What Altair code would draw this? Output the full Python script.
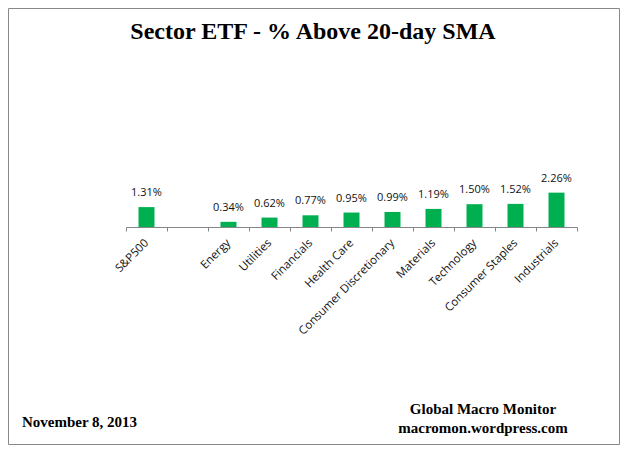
import altair as alt
import pandas as pd

# Sector ETF values (% above 20-day SMA); the blank slot is the gap after S&P500
CATEGORIES = ['S&P500', ' ', 'Energy', 'Utilities', 'Financials', 'Health Care',
              'Consumer Discretionary', 'Materials', 'Technology',
              'Consumer Staples', 'Industrials']
VALUES = [1.31, None, 0.34, 0.62, 0.77, 0.95, 0.99, 1.19, 1.50, 1.52, 2.26]

TITLE = 'Sector ETF - % Above 20-day SMA'
DATE_NOTE = 'November 8, 2013'
SOURCE_LINES = ['Global Macro Monitor', 'macromon.wordpress.com']

BAR_COLOR = '#00B050'
SERIF = 'Liberation Serif'
SANS = 'Open Sans'

df = pd.DataFrame({'sector': CATEGORIES, 'value': VALUES}).dropna()
df['label'] = df['value'].map(lambda v: f'{v:.2f}%')

x_enc = alt.X('sector:N', sort=CATEGORIES,
              scale=alt.Scale(domain=CATEGORIES, padding=0),
              axis=alt.Axis(title=None, labelAngle=-45, labelFont=SANS, labelFontSize=11.5,
                            labelColor='#111', labelPadding=10, labelAlign='right',
                            labelBaseline='middle', tickBand='extent',
                            tickSize=4, tickColor='#868686', domainColor='#868686',
                            grid=False))
y_enc = alt.Y('value:Q', scale=alt.Scale(domain=[0, 10], nice=False), axis=None)

base = alt.Chart(df).encode(x=x_enc, y=y_enc)

bars = base.mark_bar(size=16, color=BAR_COLOR)
labels = base.mark_text(baseline='bottom', dy=-9, font=SANS, fontSize=11,
                        color='#111').encode(text='label:N')

# decorations: frame, title and footer notes
one = alt.Chart(pd.DataFrame({'k': [0]}))
frame = one.mark_rect(fill='transparent', stroke='#888888', strokeWidth=1).encode(
    x=alt.value(-117.5), x2=alt.value(493.5), y=alt.value(-66.5), y2=alt.value(369.5))
title = one.mark_text(font=SERIF, fontSize=24, fontWeight='bold', color='#000',
                      align='center', baseline='alphabetic').encode(
    x=alt.value(187), y=alt.value(-36), text=alt.value(TITLE))
date_note = one.mark_text(font=SERIF, fontSize=15, fontWeight='bold', color='#000',
                          align='left', baseline='alphabetic').encode(
    x=alt.value(-104), y=alt.value(352), text=alt.value(DATE_NOTE))
src1 = one.mark_text(font=SERIF, fontSize=15, fontWeight='bold', color='#000',
                     align='center', baseline='alphabetic').encode(
    x=alt.value(357), y=alt.value(339), text=alt.value(SOURCE_LINES[0]))
src2 = one.mark_text(font=SERIF, fontSize=15, fontWeight='bold', color='#000',
                     align='center', baseline='alphabetic').encode(
    x=alt.value(357), y=alt.value(358), text=alt.value(SOURCE_LINES[1]))

chart = alt.layer(bars, labels, frame, title, date_note, src1, src2).properties(
    width=451, height=152,
    autosize=alt.AutoSizeParams(type='none'),
    padding={'left': 118, 'top': 67, 'right': 43, 'bottom': 218},
).configure(background='white').configure_view(strokeWidth=0)

chart.save('out.html', embed_options={'renderer': 'svg', 'actions': False})
